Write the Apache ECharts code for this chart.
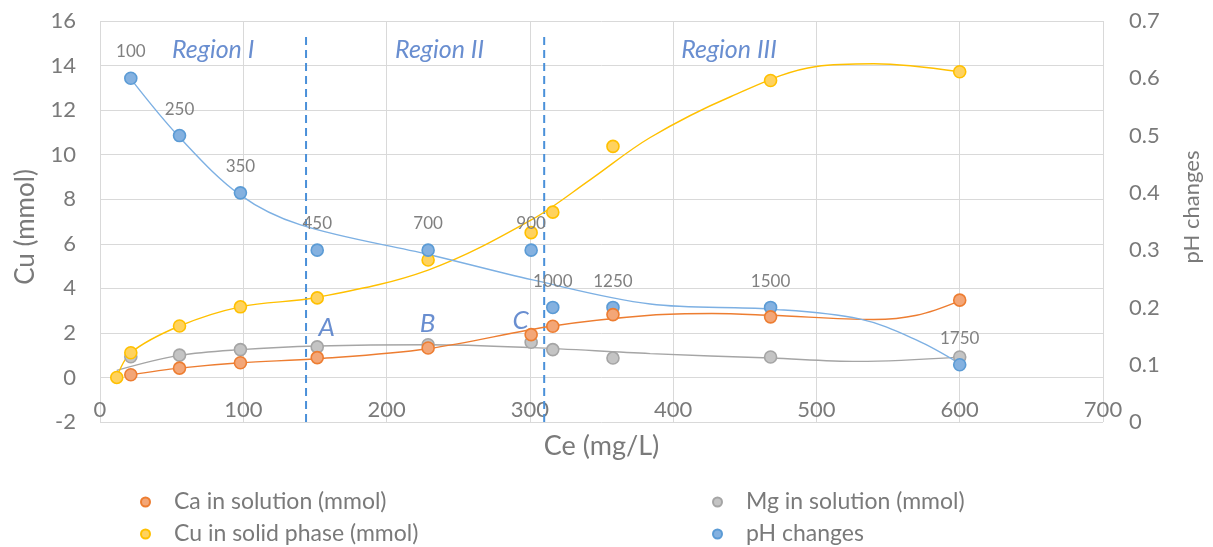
<!DOCTYPE html>
<html>
<head>
<meta charset="utf-8">
<script src="https://cdn.jsdelivr.net/npm/echarts@6/dist/echarts.min.js"></script>
<style>
html,body{margin:0;padding:0;background:#ffffff;}
#chart{width:1213px;height:547px;}
</style>
</head>
<body>
<div id="chart"></div>
<script>
// ---------- data ----------
const ceX      = [21.5, 55.5, 98, 151.6, 229, 300.9, 316, 358, 468, 600];
const caVals   = [0.12, 0.42, 0.66, 0.89, 1.32, 1.92, 2.30, 2.82, 2.72, 3.47];
const mgVals   = [0.93, 1.00, 1.25, 1.37, 1.47, 1.58, 1.25, 0.87, 0.92, 0.92];
const cuX      = [11.7, 21.5, 55.5, 98, 151.6, 229, 300.9, 316, 358, 468, 600];
const cuVals   = [0.00, 1.11, 2.31, 3.17, 3.57, 5.27, 6.50, 7.42, 10.37, 13.33, 13.72];
const phVals   = [0.60, 0.50, 0.40, 0.30, 0.30, 0.30, 0.20, 0.20, 0.20, 0.10];
const phLabels = ['100', '250', '350', '450', '700', '900', '1000', '1250', '1500', '1750'];

// trend curves
const caTrendX = [21.5, 55.5, 98, 152, 229, 316, 384, 427, 468, 540, 570, 600];
const caTrendY = [0.12, 0.42, 0.66, 0.84, 1.29, 2.31, 2.79, 2.87, 2.79, 2.60, 2.79, 3.44];
const mgTrendX = [11.7, 55.5, 98, 152, 229, 302, 384, 468, 529, 600];
const mgTrendY = [0.32, 0.99, 1.25, 1.41, 1.47, 1.34, 1.07, 0.87, 0.72, 0.91];
const cuTrendX = [11.7, 21.5, 55.5, 98, 152, 229, 301, 342, 384, 440, 500, 540, 600];
const cuTrendY = [0.01, 1.11, 2.31, 3.17, 3.60, 4.82, 7.07, 8.87, 10.77, 12.6, 13.96, 14.08, 13.72];
const phTrendX = [21.5, 55.5, 98, 140, 230, 302, 384, 468, 530, 570, 600];
const phTrendY = [0.599, 0.497, 0.396, 0.344, 0.292, 0.248, 0.206, 0.197, 0.180, 0.143, 0.102];

// annotations
const regionNames = ['Region I', 'Region II', 'Region III'];
const regionX     = [79, 237, 439];
const regionY     = [14.68, 14.68, 14.68];
const letterNames = ['A', 'B', 'C'];
const letterX     = [158.2, 228.6, 293.6];
const letterY     = [2.25, 2.42, 2.57];
const boundaryX   = [143.8, 310];
const boundaryY   = [-2, 15.5];

// axes
const xRange  = [0, 700, 100];
const yRange  = [-2, 16, 2];
const y2Range = [0, 0.7, 0.1];

const seriesNames = ['Ca in solution (mmol)', 'Mg in solution (mmol)', 'Cu in solid phase (mmol)', 'pH changes'];

// ---------- chart ----------
const FONT = 'Lato, "Open Sans", sans-serif';
const TXT = '#7a7a7a';
const C = {
  ca: {line: '#ED7D31', fill: '#F3A677', border: '#ED7D31'},
  mg: {line: '#A5A5A5', fill: '#C4C4C4', border: '#A5A5A5'},
  cu: {line: '#FFC000', fill: '#FFD25E', border: '#FFC000'},
  ph: {line: '#7DB0E3', fill: '#84B1E0', border: '#5B9BD5'}
};

const zip = (xs, ys) => xs.map((x, i) => [x, ys[i]]);

function trend(xs, ys, col, yIdx) {
  return {
    type: 'line', data: zip(xs, ys), yAxisIndex: yIdx, smooth: 0.35,
    symbol: 'none', silent: true, z: 2,
    lineStyle: {color: col, width: 1.4}
  };
}
function pts(name, xs, ys, c, yIdx, extra) {
  return Object.assign({
    name: name, type: 'scatter', data: zip(xs, ys), yAxisIndex: yIdx, z: 4,
    symbol: 'circle', symbolSize: 12,
    itemStyle: {color: c.fill, borderColor: c.border, borderWidth: 1.6, opacity: 1}
  }, extra || {});
}
function leg(name, left, top) {
  return {
    data: [name], left: left, top: top, padding: 0,
    itemWidth: 9, itemHeight: 9, icon: 'circle',
    textStyle: {fontFamily: FONT, fontSize: 23, color: TXT, lineHeight: 26, padding: [0, 0, 0, 19]}
  };
}

const chart = echarts.init(document.getElementById('chart'), null, {renderer: 'canvas'});

const option = {
  animation: false,
  backgroundColor: '#ffffff',
  textStyle: {fontFamily: FONT},
  grid: {left: 100, right: 110, top: 21, bottom: 125, containLabel: false},
  legend: [
    leg(seriesNames[0], 140, 489),
    leg(seriesNames[2], 140, 521),
    leg(seriesNames[1], 712, 489),
    leg(seriesNames[3], 712, 521)
  ],
  xAxis: {
    type: 'value', min: xRange[0], max: xRange[1], interval: xRange[2],
    name: 'Ce (mg/L)', nameLocation: 'middle', nameGap: 11,
    nameTextStyle: {fontFamily: FONT, fontSize: 27, color: TXT, verticalAlign: 'top'},
    axisLine: {show: false}, axisTick: {show: false},
    axisLabel: {inside: true, margin: 1, fontFamily: FONT, fontSize: 22, color: TXT},
    splitLine: {show: true, lineStyle: {color: '#d9d9d9', width: 1}}
  },
  yAxis: [
    {
      type: 'value', min: yRange[0], max: yRange[1], interval: yRange[2],
      name: 'Cu (mmol)', nameLocation: 'middle', nameGap: 61, nameRotate: 90,
      nameTextStyle: {fontFamily: FONT, fontSize: 26, color: TXT, padding: [0, 11, 0, 0]},
      axisLine: {show: false}, axisTick: {show: false},
      axisLabel: {margin: 24, fontFamily: FONT, fontSize: 22, color: TXT},
      splitLine: {show: true, lineStyle: {color: '#d9d9d9', width: 1}}
    },
    {
      type: 'value', position: 'right', min: y2Range[0], max: y2Range[1], interval: y2Range[2],
      name: 'pH changes', nameLocation: 'middle', nameGap: 78, nameRotate: 90,
      nameTextStyle: {fontFamily: FONT, fontSize: 22, color: TXT, padding: [0, 0, 0, 29]},
      axisLine: {show: false}, axisTick: {show: false},
      axisLabel: {margin: 26, fontFamily: FONT, fontSize: 22, color: TXT,
                  formatter: v => (Math.round(v * 10) / 10).toString()},
      splitLine: {show: false}
    }
  ],
  series: [
    // boundaries between regions
    {type: 'line', data: boundaryY.map(y => [boundaryX[0], y]), symbol: 'none', silent: true, z: 1,
     lineStyle: {color: '#4A90D9', width: 2, type: [8, 5]}},
    {type: 'line', data: boundaryY.map(y => [boundaryX[1], y]), symbol: 'none', silent: true, z: 1,
     lineStyle: {color: '#4A90D9', width: 2, type: [8, 5]}},
    // trend curves
    trend(mgTrendX, mgTrendY, C.mg.line, 0),
    trend(caTrendX, caTrendY, C.ca.line, 0),
    trend(cuTrendX, cuTrendY, C.cu.line, 0),
    trend(phTrendX, phTrendY, C.ph.line, 1),
    // markers
    pts(seriesNames[1], ceX, mgVals, C.mg, 0),
    pts(seriesNames[2], cuX, cuVals, C.cu, 0),
    pts(seriesNames[3], ceX, phVals, C.ph, 1, {
      label: {show: true, position: 'top', distance: 11, fontFamily: FONT, fontSize: 17, color: '#808080',
              formatter: p => phLabels[p.dataIndex]}
    }),
    pts(seriesNames[0], ceX, caVals, C.ca, 0),
    // annotations
    {type: 'scatter', silent: true, symbolSize: 0, z: 5,
     data: regionNames.map((n, i) => ({name: n, value: [regionX[i], regionY[i]]})),
     label: {show: true, position: 'inside', formatter: p => p.name,
             fontFamily: FONT, fontStyle: 'italic', fontSize: 25, color: '#4472C4'}},
    {type: 'scatter', silent: true, symbolSize: 0, z: 5,
     data: letterNames.map((n, i) => ({name: n, value: [letterX[i], letterY[i]]})),
     label: {show: true, position: 'inside', formatter: p => p.name,
             fontFamily: FONT, fontStyle: 'italic', fontSize: 26, color: '#4472C4'}}
  ]
};
chart.setOption(option);
</script>
</body>
</html>
